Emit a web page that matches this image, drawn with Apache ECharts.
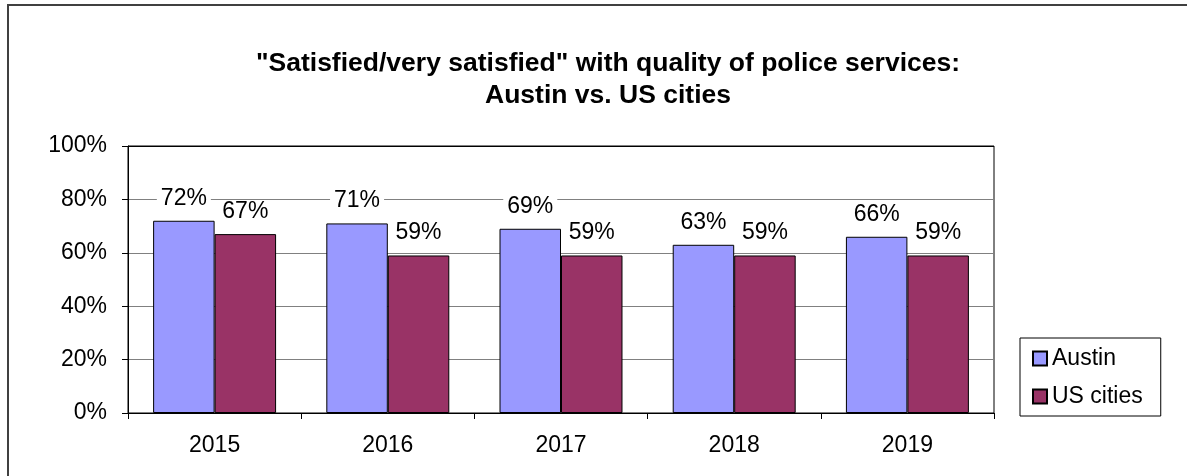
<!DOCTYPE html>
<html lang="en">
<head>
  <meta charset="UTF-8">
  <title>Police services satisfaction</title>
  <script src="https://cdn.jsdelivr.net/npm/echarts@6.0.0/dist/echarts.min.js"></script>
  <style>
    body { margin: 0; background: #fff; }
  </style>
</head>
<body>
<div id="chart" style="width: 1187px;height: 476px;"></div>
<script>
  // data
  var years = ['2015', '2016', '2017', '2018', '2019'];
  var austin = [72, 71, 69, 63, 66];
  var usCities = [67, 59, 59, 59, 59];

  var myChart = echarts.init(document.getElementById('chart'));
  var font = 'Liberation Sans, Arial, sans-serif';

  //数据标签
  var barLabel = {
    show: true,
    position: 'top',
    distance: 11,
    fontFamily: font,
    fontSize: 23,
    color: '#000',
    backgroundColor: '#fff',
    padding: [0, 4],
    formatter: '{c}%'
  };

  var option = {
    animation: false,
    textStyle: { fontFamily: font },
    title: {
      text: '"Satisfied/very satisfied" with quality of police services:\nAustin vs. US cities',
      left: 608,
      top: 48,
      padding: 0,
      textAlign: 'center',
      textStyle: {
        fontFamily: font,
        fontSize: 26.5,
        fontWeight: 'bold',
        color: '#000',
        lineHeight: 32
      }
    },
    legend: {
      orient: 'vertical',
      left: 1020,
      top: 338,
      padding: [9, 18, 8, 12],
      itemWidth: 14,
      itemHeight: 14,
      itemGap: 15,
      borderColor: '#000',
      borderWidth: 1,
      icon: 'rect',
      textStyle: { fontFamily: font, fontSize: 23, color: '#000' },
      data: ['Austin', 'US cities']
    },
    grid: {
      left: 128,
      right: 193,
      top: 146,
      bottom: 63,
      show: true,
      borderColor: '#000',
      borderWidth: 1
    },
    xAxis: {
      type: 'category',
      data: years,
      axisLine: { lineStyle: { color: '#000' } },
      axisTick: { show: true, length: 6, lineStyle: { color: '#000' } },
      axisLabel: { margin: 21, fontFamily: font, fontSize: 23, color: '#000' }
    },
    yAxis: {
      type: 'value',
      min: 0,
      max: 100,
      interval: 20,
      axisLine: { show: true, lineStyle: { color: '#000' } },
      axisTick: { show: true, length: 6, lineStyle: { color: '#000' } },
      axisLabel: { margin: 21, fontFamily: font, fontSize: 23, color: '#000', formatter: '{value}%' },
      splitLine: {
        lineStyle: { color: ['#808080', '#808080', '#808080', '#808080', '#808080', '#000'], width: 1 }
      }
    },
    series: [
      {
        name: 'Austin',
        type: 'bar',
        data: austin,
        barGap: '0%',
        barCategoryGap: '29%',
        itemStyle: { color: '#9999ff', borderColor: '#000', borderWidth: 1 },
        label: barLabel
      },
      {
        name: 'US cities',
        type: 'bar',
        data: usCities,
        itemStyle: { color: '#993366', borderColor: '#000', borderWidth: 1 },
        label: barLabel
      }
    ],
    // outer frame of the chart
    graphic: [
      {
        type: 'rect',
        shape: { x: 8, y: 5, width: 1200, height: 500 },
        style: { fill: null, stroke: '#404040', lineWidth: 2 },
        silent: true
      }
    ]
  };

  option && myChart.setOption(option);
</script>
</body>
</html>
